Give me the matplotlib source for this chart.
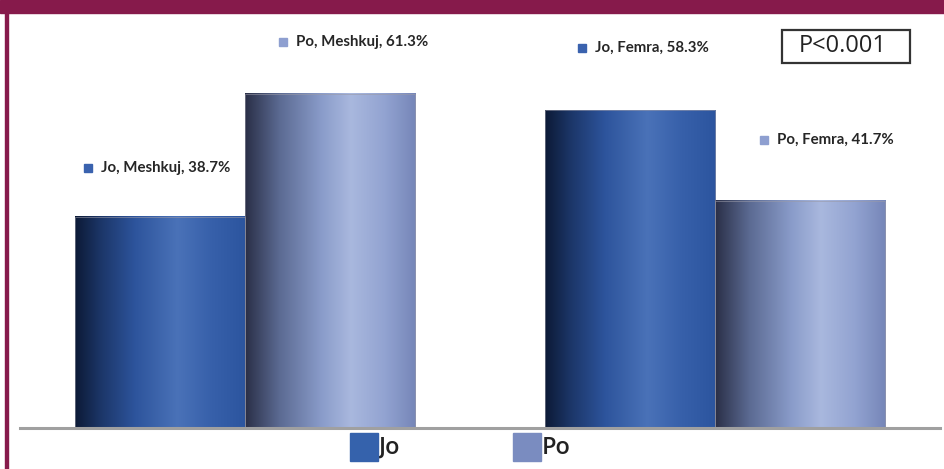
import numpy as np
import matplotlib.pyplot as plt
from matplotlib.colors import LinearSegmentedColormap
from matplotlib.patches import Rectangle

# data
genders = ["Meshkuj", "Femra"]
answers = ["Jo", "Po"]
values = {"Jo": [38.7, 58.3], "Po": [61.3, 41.7]}
p_text = "P<0.001"

W, H = 945, 469
fig = plt.figure(figsize=(W / 100, H / 100), dpi=100)
plt.rcParams['font.family'] = ['Lato', 'DejaVu Sans']

def fx(px):
    return px / W

def fy(py):
    return 1 - py / H

# maroon frame
maroon = "#861a4b"
fig.patches.append(Rectangle((0, fy(13)), 1, 13 / H, transform=fig.transFigure,
                             color=maroon, zorder=0))
fig.patches.append(Rectangle((fx(5.5), 0), 2.5 / W, 1, transform=fig.transFigure,
                             color=maroon, zorder=0))

# axes: 0 at y=428 px, 75 at y=19 px
ax = fig.add_axes([fx(20), fy(428), fx(940) - fx(20), (428 - 19) / H])
ax.set_xlim(-0.48, 1.48)
ax.set_ylim(0, 75)
ax.axis("off")

# horizontal gradients
jo_cmap = LinearSegmentedColormap.from_list("jo", [
    (0.0, "#0c1a36"), (0.15, "#1c3668"), (0.35, "#2d549c"),
    (0.6, "#4a72b8"), (0.8, "#3760aa"), (1.0, "#2c559f")])
po_cmap = LinearSegmentedColormap.from_list("po", [
    (0.0, "#2a2f47"), (0.2, "#5b6a92"), (0.45, "#8a9cca"),
    (0.62, "#a9b8de"), (0.82, "#92a3d1"), (1.0, "#7686b8")])
cmaps = {"Jo": jo_cmap, "Po": po_cmap}

x = np.arange(len(genders))
width = 0.3625
grad = np.linspace(0, 1, 256).reshape(1, -1)
for i, ans in enumerate(answers):
    offs = (i - 0.5) * width
    bars = ax.bar(x + offs, values[ans], width, color="none",
                  edgecolor="#9a9aa8", linewidth=0.4, zorder=3)
    for b in bars:
        x0, y0 = b.get_x(), b.get_y()
        ax.imshow(grad, cmap=cmaps[ans], aspect="auto", zorder=2,
                  extent=[x0, x0 + b.get_width(), y0, y0 + b.get_height()])
ax.set_xlim(-0.48, 1.48)
ax.set_ylim(0, 75)

# baseline
fig.add_artist(plt.Line2D([fx(20), fx(940)], [fy(428), fy(428)],
                          color="#a0a0a0", lw=2.2, transform=fig.transFigure))

# data labels
label_pos = {("Jo", 0): (88, 168), ("Po", 0): (283, 42),
             ("Jo", 1): (582, 48), ("Po", 1): (764, 140)}
marker_col = {"Jo": "#3a62ae", "Po": "#8e9fd0"}
for ans in answers:
    for gi, g in enumerate(genders):
        px, py = label_pos[(ans, gi)]
        fig.patches.append(Rectangle((fx(px - 4), fy(py + 4)), 8 / W, 8 / H,
                                     transform=fig.transFigure,
                                     color=marker_col[ans], zorder=5))
        fig.text(fx(px + 13), fy(py), f"{ans}, {g}, {values[ans][gi]}%",
                 fontsize=10.8, fontweight="bold", color="#262626",
                 ha="left", va="center")

# p-value box
fig.text(fx(843), fy(46.5), p_text, fontsize=17, color="#222222",
         ha="center", va="center", family=['Open Sans', 'DejaVu Sans'])
fig.patches.append(Rectangle((fx(782), fy(63)), 128 / W, 33 / H,
                             transform=fig.transFigure, fill=False,
                             edgecolor="#333333", lw=1.6, zorder=5))

# legend
leg_col = {"Jo": "#3562ac", "Po": "#7a8cc0"}
leg_x = {"Jo": 350, "Po": 513}
for ans in answers:
    lx = leg_x[ans]
    fig.patches.append(Rectangle((fx(lx), fy(461)), 28 / W, 28 / H,
                                 transform=fig.transFigure,
                                 color=leg_col[ans], zorder=5))
    fig.text(fx(lx + 29), fy(448), ans, fontsize=17, color="#222222",
             ha="left", va="center", fontweight="semibold",
             family=['Open Sans', 'DejaVu Sans'])

fig.savefig("out.png", dpi=100)
